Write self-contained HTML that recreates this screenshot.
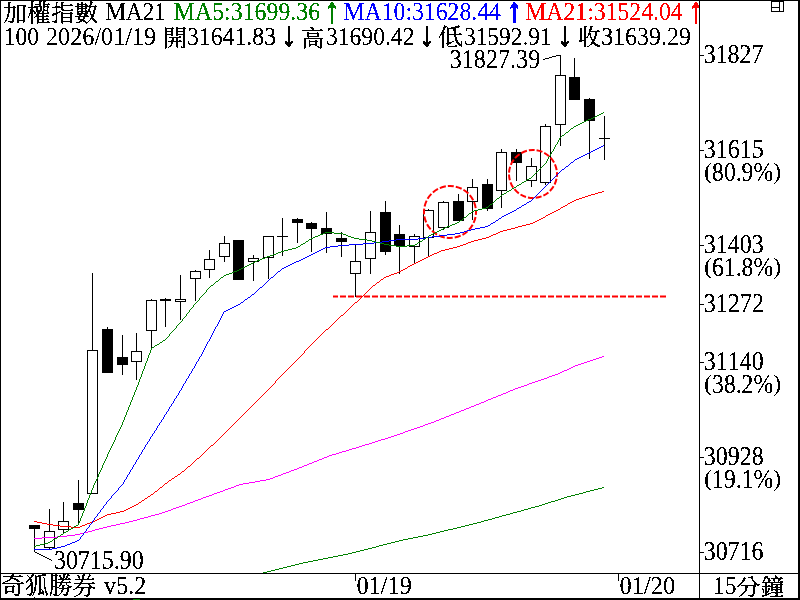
<!DOCTYPE html>
<html lang="zh-Hant"><head><meta charset="utf-8"><title>加權指數 MA21</title>
<style>html,body{margin:0;padding:0;background:#fff;overflow:hidden}body{width:800px;height:600px}svg{display:block}text{font-family:"Liberation Serif","Noto Serif CJK TC","Noto Serif CJK SC",serif;font-size:24px;white-space:pre;font-kerning:none;stroke-width:0.15px;paint-order:stroke}text.c{font-weight:400;stroke-width:0.3px;font-size:23px}text.a{stroke-width:0.75px;stroke-linejoin:miter}</style></head><body>
<svg width="800" height="600" viewBox="0 0 800 600">
<defs><filter id="t" filterUnits="userSpaceOnUse" x="0" y="0" width="800" height="600" color-interpolation-filters="sRGB"><feComponentTransfer><feFuncA type="discrete" tableValues="0 1"/></feComponentTransfer></filter></defs>
<rect x="0" y="0" width="800" height="600" fill="#fff"/>
<g id="candles" fill="#000" shape-rendering="crispEdges">
<rect x="34" y="525" width="1" height="27"/>
<rect x="29" y="525" width="11" height="4"/>
<rect x="49" y="509" width="1" height="40"/>
<rect x="44" y="531" width="11" height="17"/>
<rect x="45" y="532" width="9" height="15" fill="#fff"/>
<rect x="63" y="502" width="1" height="32"/>
<rect x="58" y="521" width="11" height="9"/>
<rect x="59" y="522" width="9" height="7" fill="#fff"/>
<rect x="78" y="480" width="1" height="44"/>
<rect x="73" y="503" width="11" height="7"/>
<rect x="92" y="273" width="1" height="221"/>
<rect x="87" y="350" width="11" height="144"/>
<rect x="88" y="351" width="9" height="142" fill="#fff"/>
<rect x="107" y="327" width="1" height="46"/>
<rect x="102" y="329" width="11" height="44"/>
<rect x="122" y="335" width="1" height="40"/>
<rect x="117" y="357" width="11" height="8"/>
<rect x="136" y="333" width="1" height="47"/>
<rect x="131" y="351" width="11" height="11"/>
<rect x="132" y="352" width="9" height="9" fill="#fff"/>
<rect x="151" y="299" width="1" height="49"/>
<rect x="146" y="300" width="11" height="31"/>
<rect x="147" y="301" width="9" height="29" fill="#fff"/>
<rect x="165" y="298" width="1" height="29"/>
<rect x="160" y="299" width="11" height="2"/>
<rect x="180" y="275" width="1" height="45"/>
<rect x="175" y="299" width="11" height="3"/>
<rect x="176" y="300" width="9" height="1" fill="#fff"/>
<rect x="195" y="270" width="1" height="31"/>
<rect x="190" y="271" width="11" height="8"/>
<rect x="191" y="272" width="9" height="6" fill="#fff"/>
<rect x="209" y="250" width="1" height="28"/>
<rect x="204" y="259" width="11" height="11"/>
<rect x="205" y="260" width="9" height="9" fill="#fff"/>
<rect x="224" y="236" width="1" height="26"/>
<rect x="219" y="243" width="11" height="14"/>
<rect x="220" y="244" width="9" height="12" fill="#fff"/>
<rect x="238" y="240" width="1" height="40"/>
<rect x="233" y="240" width="11" height="40"/>
<rect x="253" y="255" width="1" height="26"/>
<rect x="248" y="258" width="11" height="4"/>
<rect x="249" y="259" width="9" height="2" fill="#fff"/>
<rect x="268" y="236" width="1" height="43"/>
<rect x="263" y="236" width="11" height="22"/>
<rect x="264" y="237" width="9" height="20" fill="#fff"/>
<rect x="282" y="218" width="1" height="38"/>
<rect x="277" y="236" width="11" height="1"/>
<rect x="297" y="218" width="1" height="25"/>
<rect x="292" y="219" width="11" height="4"/>
<rect x="311" y="222" width="1" height="30"/>
<rect x="306" y="223" width="11" height="6"/>
<rect x="326" y="212" width="1" height="41"/>
<rect x="321" y="228" width="11" height="6"/>
<rect x="341" y="232" width="1" height="25"/>
<rect x="336" y="238" width="11" height="4"/>
<rect x="355" y="245" width="1" height="52"/>
<rect x="350" y="261" width="11" height="13"/>
<rect x="351" y="262" width="9" height="11" fill="#fff"/>
<rect x="370" y="211" width="1" height="63"/>
<rect x="365" y="232" width="11" height="27"/>
<rect x="366" y="233" width="9" height="25" fill="#fff"/>
<rect x="385" y="201" width="1" height="54"/>
<rect x="380" y="212" width="11" height="40"/>
<rect x="399" y="225" width="1" height="49"/>
<rect x="394" y="234" width="11" height="12"/>
<rect x="414" y="234" width="1" height="29"/>
<rect x="409" y="236" width="11" height="11"/>
<rect x="410" y="237" width="9" height="9" fill="#fff"/>
<rect x="428" y="209" width="1" height="47"/>
<rect x="423" y="210" width="11" height="28"/>
<rect x="424" y="211" width="9" height="26" fill="#fff"/>
<rect x="443" y="201" width="1" height="29"/>
<rect x="438" y="202" width="11" height="26"/>
<rect x="439" y="203" width="9" height="24" fill="#fff"/>
<rect x="458" y="194" width="1" height="27"/>
<rect x="453" y="201" width="11" height="20"/>
<rect x="472" y="179" width="1" height="41"/>
<rect x="467" y="187" width="11" height="15"/>
<rect x="468" y="188" width="9" height="13" fill="#fff"/>
<rect x="487" y="179" width="1" height="32"/>
<rect x="482" y="184" width="11" height="25"/>
<rect x="501" y="149" width="1" height="59"/>
<rect x="496" y="152" width="11" height="39"/>
<rect x="497" y="153" width="9" height="37" fill="#fff"/>
<rect x="516" y="149" width="1" height="32"/>
<rect x="511" y="152" width="11" height="11"/>
<rect x="531" y="158" width="1" height="29"/>
<rect x="526" y="166" width="11" height="15"/>
<rect x="527" y="167" width="9" height="13" fill="#fff"/>
<rect x="545" y="124" width="1" height="61"/>
<rect x="540" y="126" width="11" height="57"/>
<rect x="541" y="127" width="9" height="55" fill="#fff"/>
<rect x="560" y="55" width="1" height="91"/>
<rect x="555" y="75" width="11" height="50"/>
<rect x="556" y="76" width="9" height="48" fill="#fff"/>
<rect x="574" y="58" width="1" height="42"/>
<rect x="569" y="77" width="11" height="23"/>
<rect x="589" y="98" width="1" height="61"/>
<rect x="584" y="99" width="11" height="22"/>
<rect x="604" y="116" width="1" height="44"/>
<rect x="599" y="138" width="11" height="1"/>
</g>
<line x1="333" y1="296.5" x2="666" y2="296.5" stroke="#ff0000" stroke-width="2" stroke-dasharray="6 2" stroke-dashoffset="1"/>
<circle cx="450" cy="212" r="26" fill="none" stroke="#ff0000" stroke-width="2" stroke-dasharray="6.13 2.04" stroke-dashoffset="3.06"/>
<circle cx="533" cy="174" r="24" fill="none" stroke="#ff0000" stroke-width="2" stroke-dasharray="5.95 1.987" stroke-dashoffset="3"/>
<g id="ma" shape-rendering="crispEdges">
<path fill="#008000" d="M602 487h2v1h-2zM598 488h4v1h-4zM594 489h4v1h-4zM590 490h4v1h-4zM586 491h4v1h-4zM583 492h3v1h-3zM579 493h4v1h-4zM575 494h4v1h-4zM571 495h4v1h-4zM567 496h4v1h-4zM564 497h3v1h-3zM561 498h3v1h-3zM558 499h3v1h-3zM555 500h3v1h-3zM551 501h4v1h-4zM548 502h3v1h-3zM545 503h3v1h-3zM542 504h3v1h-3zM539 505h3v1h-3zM535 506h4v1h-4zM531 507h4v1h-4zM528 508h3v1h-3zM524 509h4v1h-4zM521 510h3v1h-3zM517 511h4v1h-4zM513 512h4v1h-4zM510 513h3v1h-3zM506 514h4v1h-4zM502 515h4v1h-4zM499 516h3v1h-3zM495 517h4v1h-4zM492 518h3v1h-3zM488 519h4v1h-4zM484 520h4v1h-4zM481 521h3v1h-3zM477 522h4v1h-4zM473 523h4v1h-4zM469 524h4v1h-4zM465 525h4v1h-4zM461 526h4v1h-4zM457 527h4v1h-4zM453 528h4v1h-4zM448 529h5v1h-5zM444 530h4v1h-4zM440 531h4v1h-4zM436 532h4v1h-4zM432 533h4v1h-4zM428 534h4v1h-4zM423 535h5v1h-5zM418 536h5v1h-5zM413 537h5v1h-5zM408 538h5v1h-5zM403 539h5v1h-5zM399 540h4v1h-4zM395 541h4v1h-4zM391 542h4v1h-4zM387 543h4v1h-4zM383 544h4v1h-4zM379 545h4v1h-4zM376 546h3v1h-3zM372 547h4v1h-4zM368 548h4v1h-4zM364 549h4v1h-4zM360 550h4v1h-4zM356 551h4v1h-4zM352 552h4v1h-4zM348 553h4v1h-4zM343 554h5v1h-5zM338 555h5v1h-5zM333 556h5v1h-5zM328 557h5v1h-5zM323 558h5v1h-5zM318 559h5v1h-5zM313 560h5v1h-5zM308 561h5v1h-5zM303 562h5v1h-5zM299 563h4v1h-4zM295 564h4v1h-4zM291 565h4v1h-4zM287 566h4v1h-4zM283 567h4v1h-4zM279 568h4v1h-4zM275 569h4v1h-4zM271 570h4v1h-4zM267 571h4v1h-4zM263 572h4v1h-4z"/>
<path fill="#ff00ff" d="M602 356h2v1h-2zM599 357h3v1h-3zM596 358h3v1h-3zM593 359h3v1h-3zM590 360h3v1h-3zM587 361h3v1h-3zM584 362h3v1h-3zM581 363h3v1h-3zM578 364h3v1h-3zM575 365h3v1h-3zM573 366h2v1h-2zM571 367h2v1h-2zM569 368h2v1h-2zM567 369h2v1h-2zM564 370h3v1h-3zM562 371h2v1h-2zM560 372h2v1h-2zM558 373h2v1h-2zM555 374h3v1h-3zM552 375h3v1h-3zM549 376h3v1h-3zM547 377h2v1h-2zM544 378h3v1h-3zM541 379h3v1h-3zM538 380h3v1h-3zM535 381h3v1h-3zM532 382h3v1h-3zM529 383h3v1h-3zM527 384h2v1h-2zM524 385h3v1h-3zM521 386h3v1h-3zM518 387h3v1h-3zM515 388h3v1h-3zM513 389h2v1h-2zM510 390h3v1h-3zM508 391h2v1h-2zM506 392h2v1h-2zM503 393h3v1h-3zM501 394h2v1h-2zM498 395h3v1h-3zM496 396h2v1h-2zM493 397h3v1h-3zM491 398h2v1h-2zM488 399h3v1h-3zM486 400h2v1h-2zM484 401h2v1h-2zM481 402h3v1h-3zM479 403h2v1h-2zM476 404h3v1h-3zM474 405h2v1h-2zM471 406h3v1h-3zM469 407h2v1h-2zM466 408h3v1h-3zM464 409h2v1h-2zM461 410h3v1h-3zM459 411h2v1h-2zM456 412h3v1h-3zM454 413h2v1h-2zM451 414h3v1h-3zM449 415h2v1h-2zM446 416h3v1h-3zM444 417h2v1h-2zM441 418h3v1h-3zM439 419h2v1h-2zM436 420h3v1h-3zM434 421h2v1h-2zM431 422h3v1h-3zM428 423h3v1h-3zM425 424h3v1h-3zM423 425h2v1h-2zM420 426h3v1h-3zM417 427h3v1h-3zM414 428h3v1h-3zM411 429h3v1h-3zM408 430h3v1h-3zM405 431h3v1h-3zM403 432h2v1h-2zM400 433h3v1h-3zM397 434h3v1h-3zM394 435h3v1h-3zM391 436h3v1h-3zM388 437h3v1h-3zM385 438h3v1h-3zM381 439h4v1h-4zM378 440h3v1h-3zM375 441h3v1h-3zM372 442h3v1h-3zM369 443h3v1h-3zM365 444h4v1h-4zM362 445h3v1h-3zM359 446h3v1h-3zM356 447h3v1h-3zM352 448h4v1h-4zM349 449h3v1h-3zM346 450h3v1h-3zM342 451h4v1h-4zM339 452h3v1h-3zM336 453h3v1h-3zM332 454h4v1h-4zM329 455h3v1h-3zM327 456h2v1h-2zM324 457h3v1h-3zM322 458h2v1h-2zM319 459h3v1h-3zM317 460h2v1h-2zM314 461h3v1h-3zM312 462h2v1h-2zM309 463h3v1h-3zM307 464h2v1h-2zM304 465h3v1h-3zM302 466h2v1h-2zM299 467h3v1h-3zM297 468h2v1h-2zM294 469h3v1h-3zM291 470h3v1h-3zM289 471h2v1h-2zM286 472h3v1h-3zM283 473h3v1h-3zM281 474h2v1h-2zM278 475h3v1h-3zM275 476h3v1h-3zM273 477h2v1h-2zM270 478h3v1h-3zM266 479h4v1h-4zM260 480h6v1h-6zM255 481h5v1h-5zM249 482h6v1h-6zM243 483h6v1h-6zM239 484h4v1h-4zM236 485h3v1h-3zM234 486h2v1h-2zM231 487h3v1h-3zM228 488h3v1h-3zM225 489h3v1h-3zM223 490h2v1h-2zM220 491h3v1h-3zM217 492h3v1h-3zM214 493h3v1h-3zM212 494h2v1h-2zM209 495h3v1h-3zM206 496h3v1h-3zM203 497h3v1h-3zM201 498h2v1h-2zM198 499h3v1h-3zM195 500h3v1h-3zM193 501h2v1h-2zM190 502h3v1h-3zM187 503h3v1h-3zM185 504h2v1h-2zM182 505h3v1h-3zM179 506h3v1h-3zM176 507h3v1h-3zM173 508h3v1h-3zM171 509h2v1h-2zM168 510h3v1h-3zM165 511h3v1h-3zM162 512h3v1h-3zM159 513h3v1h-3zM155 514h4v1h-4zM151 515h4v1h-4zM148 516h3v1h-3zM144 517h4v1h-4zM140 518h4v1h-4zM137 519h3v1h-3zM133 520h4v1h-4zM129 521h4v1h-4zM125 522h4v1h-4zM120 523h5v1h-5zM116 524h4v1h-4zM111 525h5v1h-5zM107 526h4v1h-4zM103 527h4v1h-4zM99 528h4v1h-4zM95 529h4v1h-4zM92 530h3v1h-3zM88 531h4v1h-4zM84 532h4v1h-4zM80 533h4v1h-4zM75 534h5v1h-5zM67 535h8v1h-8zM57 536h10v1h-10zM42 537h15v1h-15zM34 538h8v1h-8z"/>
<path fill="#ff0000" d="M602 191h2v1h-2zM598 192h4v1h-4zM595 193h3v1h-3zM591 194h4v1h-4zM588 195h3v1h-3zM585 196h3v1h-3zM582 197h3v1h-3zM579 198h3v1h-3zM576 199h3v1h-3zM574 200h2v1h-2zM572 201h2v1h-2zM570 202h2v1h-2zM568 203h2v1h-2zM565 205h2v1h-2zM563 206h2v1h-2zM561 207h2v1h-2zM558 209h2v1h-2zM556 210h2v1h-2zM554 211h2v1h-2zM552 212h2v1h-2zM550 213h2v1h-2zM548 214h2v1h-2zM546 215h2v1h-2zM543 217h2v1h-2zM541 218h2v1h-2zM539 219h2v1h-2zM537 220h2v1h-2zM535 221h2v1h-2zM533 222h2v1h-2zM530 223h3v1h-3zM526 224h4v1h-4zM522 225h4v1h-4zM518 226h4v1h-4zM515 227h3v1h-3zM511 228h4v1h-4zM507 229h4v1h-4zM503 230h4v1h-4zM500 231h3v1h-3zM498 232h2v1h-2zM496 233h2v1h-2zM493 234h3v1h-3zM491 235h2v1h-2zM489 236h2v1h-2zM486 237h3v1h-3zM482 238h4v1h-4zM478 239h4v1h-4zM474 240h4v1h-4zM471 241h3v1h-3zM468 242h3v1h-3zM466 243h2v1h-2zM463 244h3v1h-3zM460 245h3v1h-3zM457 246h3v1h-3zM453 247h4v1h-4zM449 248h4v1h-4zM445 249h4v1h-4zM441 250h4v1h-4zM439 251h2v1h-2zM437 252h2v1h-2zM434 253h3v1h-3zM432 254h2v1h-2zM430 255h2v1h-2zM428 256h2v1h-2zM426 257h2v1h-2zM424 258h2v1h-2zM422 259h2v1h-2zM420 260h2v1h-2zM418 261h2v1h-2zM416 262h2v1h-2zM414 263h2v1h-2zM412 264h2v1h-2zM410 265h2v1h-2zM408 266h2v1h-2zM405 268h2v1h-2zM403 269h2v1h-2zM401 270h2v1h-2zM399 271h2v1h-2zM397 272h2v1h-2zM394 273h3v1h-3zM391 274h3v1h-3zM389 275h2v1h-2zM386 276h3v1h-3zM384 277h2v1h-2zM381 279h2v1h-2zM377 282h2v1h-2zM373 285h2v1h-2zM355 302h2v1h-2zM341 315h2v1h-2zM326 329h2v1h-2zM211 445h2v1h-2zM197 458h2v1h-2zM188 466h2v1h-2zM182 471h2v1h-2zM178 474h2v1h-2zM175 476h2v1h-2zM172 478h2v1h-2zM169 480h2v1h-2zM165 483h2v1h-2zM160 487h2v1h-2zM155 491h2v1h-2zM151 494h2v1h-2zM148 496h2v1h-2zM145 498h2v1h-2zM142 500h2v1h-2zM139 502h2v1h-2zM136 504h2v1h-2zM134 505h2v1h-2zM132 506h2v1h-2zM130 507h2v1h-2zM128 508h2v1h-2zM126 509h2v1h-2zM124 510h2v1h-2zM120 511h4v1h-4zM116 512h4v1h-4zM111 513h5v1h-5zM107 514h4v1h-4zM105 515h2v1h-2zM103 516h2v1h-2zM101 517h2v1h-2zM99 518h2v1h-2zM97 519h2v1h-2zM95 520h2v1h-2zM34 521h3v1h-3zM92 521h3v1h-3zM37 522h5v1h-5zM90 522h2v1h-2zM42 523h5v1h-5zM87 523h3v1h-3zM47 524h6v1h-6zM85 524h2v1h-2zM53 525h7v1h-7zM82 525h3v1h-3zM60 526h11v1h-11zM80 526h2v1h-2zM71 527h9v1h-9zM567 204h1v1h-1zM560 208h1v1h-1zM545 216h1v1h-1zM407 267h1v1h-1zM383 278h1v1h-1zM380 280h1v1h-1zM379 281h1v1h-1zM376 283h1v1h-1zM375 284h1v1h-1zM372 286h1v1h-1zM371 287h1v1h-1zM370 288h1v1h-1zM369 289h1v1h-1zM368 290h1v1h-1zM367 291h1v1h-1zM366 292h1v1h-1zM365 293h1v1h-1zM364 294h1v1h-1zM363 295h1v1h-1zM362 296h1v1h-1zM361 297h1v1h-1zM360 298h1v1h-1zM359 299h1v1h-1zM358 300h1v1h-1zM357 301h1v1h-1zM354 303h1v1h-1zM353 304h1v1h-1zM352 305h1v1h-1zM351 306h1v1h-1zM350 307h1v1h-1zM349 308h1v1h-1zM348 309h1v1h-1zM347 310h1v1h-1zM346 311h1v1h-1zM345 312h1v1h-1zM344 313h1v1h-1zM343 314h1v1h-1zM340 316h1v1h-1zM339 317h1v1h-1zM338 318h1v1h-1zM337 319h1v1h-1zM336 320h1v1h-1zM335 321h1v1h-1zM334 322h1v1h-1zM333 323h1v1h-1zM332 324h1v1h-1zM331 325h1v1h-1zM330 326h1v1h-1zM329 327h1v1h-1zM328 328h1v1h-1zM325 330h1v1h-1zM324 331h1v1h-1zM323 332h1v1h-1zM322 333h1v1h-1zM321 334h1v1h-1zM320 335h1v1h-1zM319 336h1v1h-1zM318 337h1v1h-1zM317 338h1v1h-1zM316 339h1v1h-1zM315 340h1v1h-1zM314 341h1v1h-1zM313 342h1v1h-1zM312 343h1v1h-1zM311 344h1v1h-1zM310 345h1v1h-1zM309 346h1v1h-1zM308 347h1v1h-1zM307 348h1v1h-1zM306 349h1v1h-1zM305 350h1v1h-1zM304 351h1v2h-1zM303 353h1v1h-1zM302 354h1v1h-1zM301 355h1v1h-1zM300 356h1v1h-1zM299 357h1v1h-1zM298 358h1v1h-1zM297 359h1v1h-1zM296 360h1v1h-1zM295 361h1v1h-1zM294 362h1v1h-1zM293 363h1v1h-1zM292 364h1v1h-1zM291 365h1v1h-1zM290 366h1v1h-1zM289 367h1v1h-1zM288 368h1v1h-1zM287 369h1v1h-1zM286 370h1v1h-1zM285 371h1v1h-1zM284 372h1v1h-1zM283 373h1v1h-1zM282 374h1v1h-1zM281 375h1v1h-1zM280 376h1v1h-1zM279 377h1v1h-1zM278 378h1v1h-1zM277 379h1v1h-1zM276 380h1v1h-1zM275 381h1v2h-1zM274 383h1v1h-1zM273 384h1v1h-1zM272 385h1v1h-1zM271 386h1v1h-1zM270 387h1v1h-1zM269 388h1v1h-1zM268 389h1v1h-1zM267 390h1v1h-1zM266 391h1v1h-1zM265 392h1v1h-1zM264 393h1v1h-1zM263 394h1v1h-1zM262 395h1v1h-1zM261 396h1v1h-1zM260 397h1v1h-1zM259 398h1v1h-1zM258 399h1v1h-1zM257 400h1v1h-1zM256 401h1v1h-1zM255 402h1v1h-1zM254 403h1v1h-1zM253 404h1v1h-1zM252 405h1v1h-1zM251 406h1v1h-1zM250 407h1v1h-1zM249 408h1v1h-1zM248 409h1v1h-1zM247 410h1v1h-1zM246 411h1v1h-1zM245 412h1v1h-1zM244 413h1v1h-1zM243 414h1v1h-1zM242 415h1v1h-1zM241 416h1v1h-1zM240 417h1v1h-1zM239 418h1v1h-1zM238 419h1v1h-1zM237 420h1v1h-1zM236 421h1v1h-1zM235 422h1v1h-1zM234 423h1v1h-1zM233 424h1v1h-1zM232 425h1v1h-1zM231 426h1v1h-1zM230 427h1v1h-1zM229 428h1v1h-1zM228 429h1v1h-1zM227 430h1v1h-1zM226 431h1v1h-1zM225 432h1v1h-1zM224 433h1v1h-1zM223 434h1v1h-1zM222 435h1v1h-1zM221 436h1v1h-1zM220 437h1v1h-1zM219 438h1v1h-1zM218 439h1v1h-1zM217 440h1v1h-1zM216 441h1v1h-1zM215 442h1v1h-1zM214 443h1v1h-1zM213 444h1v1h-1zM210 446h1v1h-1zM209 447h1v1h-1zM208 448h1v1h-1zM207 449h1v1h-1zM206 450h1v1h-1zM205 451h1v1h-1zM204 452h1v1h-1zM203 453h1v1h-1zM202 454h1v1h-1zM201 455h1v1h-1zM200 456h1v1h-1zM199 457h1v1h-1zM196 459h1v1h-1zM195 460h1v1h-1zM194 461h1v1h-1zM193 462h1v1h-1zM192 463h1v1h-1zM191 464h1v1h-1zM190 465h1v1h-1zM187 467h1v1h-1zM186 468h1v1h-1zM185 469h1v1h-1zM184 470h1v1h-1zM181 472h1v1h-1zM180 473h1v1h-1zM177 475h1v1h-1zM174 477h1v1h-1zM171 479h1v1h-1zM168 481h1v1h-1zM167 482h1v1h-1zM164 484h1v1h-1zM163 485h1v1h-1zM162 486h1v1h-1zM159 488h1v1h-1zM158 489h1v1h-1zM157 490h1v1h-1zM154 492h1v1h-1zM153 493h1v1h-1zM150 495h1v1h-1zM147 497h1v1h-1zM144 499h1v1h-1zM141 501h1v1h-1zM138 503h1v1h-1z"/>
<path fill="#0000ff" d="M601 146h2v1h-2zM599 147h2v1h-2zM597 148h2v1h-2zM595 149h2v1h-2zM593 150h2v1h-2zM591 151h2v1h-2zM589 152h2v1h-2zM587 153h2v1h-2zM585 154h2v1h-2zM583 155h2v1h-2zM581 156h2v1h-2zM579 157h2v1h-2zM577 158h2v1h-2zM575 159h2v1h-2zM571 162h2v1h-2zM566 166h2v1h-2zM562 169h2v1h-2zM529 201h2v1h-2zM527 202h2v1h-2zM524 204h2v1h-2zM522 205h2v1h-2zM519 207h2v1h-2zM517 208h2v1h-2zM514 210h2v1h-2zM512 211h2v1h-2zM510 212h2v1h-2zM508 213h2v1h-2zM506 214h2v1h-2zM504 215h2v1h-2zM502 216h2v1h-2zM499 218h2v1h-2zM496 220h2v1h-2zM493 222h2v1h-2zM491 223h2v1h-2zM488 225h2v1h-2zM485 226h3v1h-3zM480 227h5v1h-5zM475 228h5v1h-5zM471 229h4v1h-4zM467 230h4v1h-4zM464 231h3v1h-3zM460 232h4v1h-4zM455 233h5v1h-5zM447 234h8v1h-8zM440 235h7v1h-7zM432 236h8v1h-8zM425 237h7v1h-7zM418 238h7v1h-7zM396 239h22v1h-22zM389 240h7v1h-7zM382 241h7v1h-7zM374 242h8v1h-8zM363 243h11v1h-11zM349 244h14v1h-14zM338 245h11v1h-11zM330 246h8v1h-8zM325 247h5v1h-5zM323 248h2v1h-2zM321 249h2v1h-2zM319 250h2v1h-2zM317 251h2v1h-2zM315 252h2v1h-2zM313 253h2v1h-2zM311 254h2v1h-2zM309 255h2v1h-2zM307 256h2v1h-2zM305 257h2v1h-2zM303 258h2v1h-2zM301 259h2v1h-2zM299 260h2v1h-2zM296 261h3v1h-3zM294 262h2v1h-2zM292 263h2v1h-2zM290 264h2v1h-2zM288 265h2v1h-2zM286 266h2v1h-2zM284 267h2v1h-2zM282 268h2v1h-2zM278 271h2v1h-2zM271 277h2v1h-2zM260 287h2v1h-2zM252 294h2v1h-2zM248 297h2v1h-2zM245 299h2v1h-2zM241 302h2v1h-2zM238 304h2v1h-2zM236 305h2v1h-2zM234 306h2v1h-2zM232 307h2v1h-2zM230 308h2v1h-2zM228 309h2v1h-2zM226 310h2v1h-2zM224 311h2v1h-2zM77 540h2v1h-2zM75 541h2v1h-2zM72 542h3v1h-3zM70 543h2v1h-2zM67 544h3v1h-3zM65 545h2v1h-2zM61 546h4v1h-4zM57 547h4v1h-4zM52 548h5v1h-5zM34 549h18v1h-18zM603 145h1v1h-1zM574 160h1v1h-1zM573 161h1v1h-1zM570 163h1v1h-1zM569 164h1v1h-1zM568 165h1v1h-1zM565 167h1v1h-1zM564 168h1v1h-1zM561 170h1v1h-1zM560 171h1v1h-1zM559 172h1v1h-1zM558 173h1v1h-1zM557 174h1v1h-1zM556 175h1v1h-1zM555 176h1v1h-1zM554 177h1v1h-1zM553 178h1v1h-1zM552 179h1v1h-1zM551 180h1v1h-1zM550 181h1v1h-1zM549 182h1v1h-1zM548 183h1v1h-1zM547 184h1v1h-1zM546 185h1v1h-1zM545 186h1v1h-1zM544 187h1v1h-1zM543 188h1v1h-1zM542 189h1v1h-1zM541 190h1v1h-1zM540 191h1v1h-1zM539 192h1v1h-1zM538 193h1v1h-1zM537 194h1v1h-1zM536 195h1v1h-1zM535 196h1v1h-1zM534 197h1v1h-1zM533 198h1v1h-1zM532 199h1v1h-1zM531 200h1v1h-1zM526 203h1v1h-1zM521 206h1v1h-1zM516 209h1v1h-1zM501 217h1v1h-1zM498 219h1v1h-1zM495 221h1v1h-1zM490 224h1v1h-1zM281 269h1v1h-1zM280 270h1v1h-1zM277 272h1v1h-1zM276 273h1v1h-1zM275 274h1v1h-1zM274 275h1v1h-1zM273 276h1v1h-1zM270 278h1v1h-1zM269 279h1v1h-1zM268 280h1v1h-1zM267 281h1v1h-1zM266 282h1v1h-1zM265 283h1v1h-1zM264 284h1v1h-1zM263 285h1v1h-1zM262 286h1v1h-1zM259 288h1v1h-1zM258 289h1v1h-1zM257 290h1v1h-1zM256 291h1v1h-1zM255 292h1v1h-1zM254 293h1v1h-1zM251 295h1v1h-1zM250 296h1v1h-1zM247 298h1v1h-1zM244 300h1v1h-1zM243 301h1v1h-1zM240 303h1v1h-1zM223 312h1v2h-1zM222 314h1v2h-1zM221 316h1v2h-1zM220 318h1v2h-1zM219 320h1v2h-1zM218 322h1v2h-1zM217 324h1v2h-1zM216 326h1v1h-1zM215 327h1v2h-1zM214 329h1v2h-1zM213 331h1v2h-1zM212 333h1v2h-1zM211 335h1v2h-1zM210 337h1v2h-1zM209 339h1v2h-1zM208 341h1v1h-1zM207 342h1v2h-1zM206 344h1v2h-1zM205 346h1v2h-1zM204 348h1v2h-1zM203 350h1v2h-1zM202 352h1v2h-1zM201 354h1v2h-1zM200 356h1v1h-1zM199 357h1v2h-1zM198 359h1v2h-1zM197 361h1v1h-1zM196 362h1v2h-1zM195 364h1v2h-1zM194 366h1v2h-1zM193 368h1v1h-1zM192 369h1v2h-1zM191 371h1v2h-1zM190 373h1v1h-1zM189 374h1v2h-1zM188 376h1v2h-1zM187 378h1v1h-1zM186 379h1v2h-1zM185 381h1v2h-1zM184 383h1v1h-1zM183 384h1v2h-1zM182 386h1v2h-1zM181 388h1v2h-1zM180 390h1v1h-1zM179 391h1v2h-1zM178 393h1v2h-1zM177 395h1v1h-1zM176 396h1v2h-1zM175 398h1v1h-1zM174 399h1v2h-1zM173 401h1v2h-1zM172 403h1v1h-1zM171 404h1v2h-1zM170 406h1v1h-1zM169 407h1v2h-1zM168 409h1v2h-1zM167 411h1v1h-1zM166 412h1v2h-1zM165 414h1v1h-1zM164 415h1v2h-1zM163 417h1v2h-1zM162 419h1v1h-1zM161 420h1v2h-1zM160 422h1v1h-1zM159 423h1v2h-1zM158 425h1v1h-1zM157 426h1v2h-1zM156 428h1v2h-1zM155 430h1v1h-1zM154 431h1v2h-1zM153 433h1v1h-1zM152 434h1v2h-1zM151 436h1v1h-1zM150 437h1v2h-1zM149 439h1v2h-1zM148 441h1v1h-1zM147 442h1v2h-1zM146 444h1v1h-1zM145 445h1v2h-1zM144 447h1v2h-1zM143 449h1v1h-1zM142 450h1v2h-1zM141 452h1v2h-1zM140 454h1v1h-1zM139 455h1v2h-1zM138 457h1v2h-1zM137 459h1v1h-1zM136 460h1v2h-1zM135 462h1v2h-1zM134 464h1v1h-1zM133 465h1v2h-1zM132 467h1v2h-1zM131 469h1v1h-1zM130 470h1v2h-1zM129 472h1v2h-1zM128 474h1v1h-1zM127 475h1v2h-1zM126 477h1v2h-1zM125 479h1v1h-1zM124 480h1v2h-1zM123 482h1v2h-1zM122 484h1v1h-1zM121 485h1v1h-1zM120 486h1v1h-1zM119 487h1v1h-1zM118 488h1v2h-1zM117 490h1v1h-1zM116 491h1v1h-1zM115 492h1v1h-1zM114 493h1v1h-1zM113 494h1v1h-1zM112 495h1v1h-1zM111 496h1v2h-1zM110 498h1v1h-1zM109 499h1v1h-1zM108 500h1v1h-1zM107 501h1v1h-1zM106 502h1v2h-1zM105 504h1v1h-1zM104 505h1v1h-1zM103 506h1v2h-1zM102 508h1v1h-1zM101 509h1v1h-1zM100 510h1v2h-1zM99 512h1v1h-1zM98 513h1v1h-1zM97 514h1v2h-1zM96 516h1v1h-1zM95 517h1v1h-1zM94 518h1v2h-1zM93 520h1v1h-1zM92 521h1v2h-1zM91 523h1v1h-1zM90 524h1v1h-1zM89 525h1v2h-1zM88 527h1v1h-1zM87 528h1v1h-1zM86 529h1v2h-1zM85 531h1v1h-1zM84 532h1v1h-1zM83 533h1v2h-1zM82 535h1v1h-1zM81 536h1v1h-1zM80 537h1v2h-1zM79 539h1v1h-1z"/>
<path fill="#008000" d="M601 113h2v1h-2zM599 114h2v1h-2zM597 115h2v1h-2zM595 116h2v1h-2zM593 117h2v1h-2zM591 118h2v1h-2zM588 119h3v1h-3zM586 120h2v1h-2zM584 121h2v1h-2zM582 122h2v1h-2zM580 123h2v1h-2zM578 124h2v1h-2zM576 125h2v1h-2zM574 126h2v1h-2zM571 128h2v1h-2zM566 132h2v1h-2zM562 135h2v1h-2zM529 178h2v1h-2zM527 179h2v1h-2zM524 181h2v1h-2zM522 182h2v1h-2zM519 184h2v1h-2zM517 185h2v1h-2zM514 187h2v1h-2zM512 188h2v1h-2zM509 190h2v1h-2zM507 191h2v1h-2zM504 193h2v1h-2zM502 194h2v1h-2zM497 198h2v1h-2zM490 204h2v1h-2zM486 207h2v1h-2zM482 208h4v1h-4zM478 209h4v1h-4zM474 210h4v1h-4zM472 211h2v1h-2zM469 213h2v1h-2zM464 217h2v1h-2zM460 220h2v1h-2zM457 222h2v1h-2zM455 223h2v1h-2zM452 224h3v1h-3zM450 225h2v1h-2zM447 226h3v1h-3zM445 227h2v1h-2zM443 228h2v1h-2zM441 229h2v1h-2zM439 230h2v1h-2zM437 231h2v1h-2zM325 232h9v1h-9zM435 232h2v1h-2zM323 233h2v1h-2zM334 233h9v1h-9zM433 233h2v1h-2zM320 234h3v1h-3zM343 234h3v1h-3zM431 234h2v1h-2zM318 235h2v1h-2zM346 235h2v1h-2zM429 235h2v1h-2zM315 236h3v1h-3zM348 236h3v1h-3zM313 237h2v1h-2zM351 237h3v1h-3zM426 237h2v1h-2zM311 238h2v1h-2zM354 238h5v1h-5zM309 239h2v1h-2zM359 239h8v1h-8zM423 239h2v1h-2zM367 240h5v1h-5zM306 241h2v1h-2zM372 241h4v1h-4zM420 241h2v1h-2zM376 242h4v1h-4zM418 242h2v1h-2zM303 243h2v1h-2zM380 243h4v1h-4zM301 244h2v1h-2zM384 244h5v1h-5zM415 244h2v1h-2zM389 245h7v1h-7zM407 245h8v1h-8zM298 246h2v1h-2zM396 246h11v1h-11zM296 247h2v1h-2zM292 248h4v1h-4zM288 249h4v1h-4zM284 250h4v1h-4zM281 251h3v1h-3zM278 252h3v1h-3zM276 253h2v1h-2zM273 254h3v1h-3zM270 255h3v1h-3zM267 256h3v1h-3zM265 257h2v1h-2zM262 258h3v1h-3zM260 259h2v1h-2zM257 260h3v1h-3zM255 261h2v1h-2zM253 262h2v1h-2zM251 263h2v1h-2zM249 264h2v1h-2zM247 265h2v1h-2zM245 266h2v1h-2zM243 267h2v1h-2zM241 268h2v1h-2zM239 269h2v1h-2zM237 270h2v1h-2zM234 271h3v1h-3zM232 272h2v1h-2zM229 273h3v1h-3zM226 274h3v1h-3zM224 275h2v1h-2zM221 277h2v1h-2zM216 281h2v1h-2zM211 285h2v1h-2zM163 340h2v1h-2zM160 342h2v1h-2zM157 344h2v1h-2zM155 345h2v1h-2zM152 347h2v1h-2zM76 525h2v1h-2zM74 526h2v1h-2zM71 528h2v1h-2zM69 529h2v1h-2zM66 531h2v1h-2zM64 532h2v1h-2zM61 534h2v1h-2zM58 536h2v1h-2zM55 538h2v1h-2zM53 539h2v1h-2zM50 541h2v1h-2zM48 542h2v1h-2zM44 543h4v1h-4zM40 544h4v1h-4zM36 545h4v1h-4zM34 546h2v1h-2zM603 112h1v1h-1zM573 127h1v1h-1zM570 129h1v1h-1zM569 130h1v1h-1zM568 131h1v1h-1zM565 133h1v1h-1zM564 134h1v1h-1zM561 136h1v1h-1zM560 137h1v1h-1zM559 138h1v2h-1zM558 140h1v2h-1zM557 142h1v2h-1zM556 144h1v1h-1zM555 145h1v2h-1zM554 147h1v2h-1zM553 149h1v2h-1zM552 151h1v1h-1zM551 152h1v2h-1zM550 154h1v2h-1zM549 156h1v1h-1zM548 157h1v2h-1zM547 159h1v2h-1zM546 161h1v2h-1zM545 163h1v1h-1zM544 164h1v1h-1zM543 165h1v1h-1zM542 166h1v1h-1zM541 167h1v1h-1zM540 168h1v1h-1zM539 169h1v1h-1zM538 170h1v1h-1zM537 171h1v1h-1zM536 172h1v1h-1zM535 173h1v1h-1zM534 174h1v1h-1zM533 175h1v1h-1zM532 176h1v1h-1zM531 177h1v1h-1zM526 180h1v1h-1zM521 183h1v1h-1zM516 186h1v1h-1zM511 189h1v1h-1zM506 192h1v1h-1zM501 195h1v1h-1zM500 196h1v1h-1zM499 197h1v1h-1zM496 199h1v1h-1zM495 200h1v1h-1zM494 201h1v1h-1zM493 202h1v1h-1zM492 203h1v1h-1zM489 205h1v1h-1zM488 206h1v1h-1zM471 212h1v1h-1zM468 214h1v1h-1zM467 215h1v1h-1zM466 216h1v1h-1zM463 218h1v1h-1zM462 219h1v1h-1zM459 221h1v1h-1zM428 236h1v1h-1zM425 238h1v1h-1zM308 240h1v1h-1zM422 240h1v1h-1zM305 242h1v1h-1zM417 243h1v1h-1zM300 245h1v1h-1zM223 276h1v1h-1zM220 278h1v1h-1zM219 279h1v1h-1zM218 280h1v1h-1zM215 282h1v1h-1zM214 283h1v1h-1zM213 284h1v1h-1zM210 286h1v1h-1zM209 287h1v1h-1zM208 288h1v1h-1zM207 289h1v1h-1zM206 290h1v2h-1zM205 292h1v1h-1zM204 293h1v1h-1zM203 294h1v1h-1zM202 295h1v1h-1zM201 296h1v1h-1zM200 297h1v1h-1zM199 298h1v2h-1zM198 300h1v1h-1zM197 301h1v1h-1zM196 302h1v1h-1zM195 303h1v1h-1zM194 304h1v1h-1zM193 305h1v2h-1zM192 307h1v1h-1zM191 308h1v1h-1zM190 309h1v1h-1zM189 310h1v2h-1zM188 312h1v1h-1zM187 313h1v1h-1zM186 314h1v2h-1zM185 316h1v1h-1zM184 317h1v1h-1zM183 318h1v1h-1zM182 319h1v2h-1zM181 321h1v1h-1zM180 322h1v1h-1zM179 323h1v1h-1zM178 324h1v1h-1zM177 325h1v1h-1zM176 326h1v2h-1zM175 328h1v1h-1zM174 329h1v1h-1zM173 330h1v1h-1zM172 331h1v1h-1zM171 332h1v1h-1zM170 333h1v1h-1zM169 334h1v2h-1zM168 336h1v1h-1zM167 337h1v1h-1zM166 338h1v1h-1zM165 339h1v1h-1zM162 341h1v1h-1zM159 343h1v1h-1zM154 346h1v1h-1zM151 348h1v2h-1zM150 350h1v3h-1zM149 353h1v2h-1zM148 355h1v3h-1zM147 358h1v3h-1zM146 361h1v2h-1zM145 363h1v3h-1zM144 366h1v3h-1zM143 369h1v2h-1zM142 371h1v3h-1zM141 374h1v3h-1zM140 377h1v2h-1zM139 379h1v3h-1zM138 382h1v3h-1zM137 385h1v2h-1zM136 387h1v3h-1zM135 390h1v2h-1zM134 392h1v3h-1zM133 395h1v2h-1zM132 397h1v3h-1zM131 400h1v2h-1zM130 402h1v3h-1zM129 405h1v2h-1zM128 407h1v3h-1zM127 410h1v2h-1zM126 412h1v3h-1zM125 415h1v2h-1zM124 417h1v3h-1zM123 420h1v2h-1zM122 422h1v3h-1zM121 425h1v2h-1zM120 427h1v2h-1zM119 429h1v2h-1zM118 431h1v2h-1zM117 433h1v2h-1zM116 435h1v2h-1zM115 437h1v3h-1zM114 440h1v2h-1zM113 442h1v2h-1zM112 444h1v2h-1zM111 446h1v2h-1zM110 448h1v2h-1zM109 450h1v2h-1zM108 452h1v2h-1zM107 454h1v3h-1zM106 457h1v2h-1zM105 459h1v2h-1zM104 461h1v2h-1zM103 463h1v2h-1zM102 465h1v3h-1zM101 468h1v2h-1zM100 470h1v2h-1zM99 472h1v2h-1zM98 474h1v3h-1zM97 477h1v2h-1zM96 479h1v2h-1zM95 481h1v2h-1zM94 483h1v2h-1zM93 485h1v3h-1zM92 488h1v2h-1zM91 490h1v3h-1zM90 493h1v2h-1zM89 495h1v3h-1zM88 498h1v2h-1zM87 500h1v3h-1zM86 503h1v3h-1zM85 506h1v2h-1zM84 508h1v3h-1zM83 511h1v2h-1zM82 513h1v3h-1zM81 516h1v2h-1zM80 518h1v3h-1zM79 521h1v2h-1zM78 523h1v2h-1zM73 527h1v1h-1zM68 530h1v1h-1zM63 533h1v1h-1zM60 535h1v1h-1zM57 537h1v1h-1zM52 540h1v1h-1z"/>
</g>
<g shape-rendering="crispEdges">
<path fill="#000" d="M556 55h5v1h-5zM552 56h4v1h-4zM549 57h3v1h-3zM545 58h4v1h-4zM543 59h2v1h-2z"/>
<path fill="#000" d="M35 552h2v1h-2zM37 553h2v1h-2zM39 554h2v1h-2zM41 555h2v1h-2zM43 556h2v1h-2zM45 557h2v1h-2zM47 558h2v1h-2zM49 559h2v1h-2zM34 551h1v1h-1zM51 560h1v1h-1z"/>
</g>
<g id="txt" filter="url(#t)">
<g id="hdr">
<text class="c" transform="translate(3.28,21.01) scale(1.0319,1.0106)" fill="#000" stroke="#000">加權指數</text>
<text transform="translate(105.41,20.00) scale(0.9655,1.070)" fill="#000" stroke="#000">MA21</text>
<text transform="translate(173.79,20.00) scale(0.9933,1.070)" fill="#008000" stroke="#008000">MA5:31699.36</text>
<text class="a" transform="translate(324.32,22.06) scale(1.280,1.458)" fill="#008000" stroke="#008000">↑</text>
<text transform="translate(343.39,20.00) scale(0.9897,1.070)" fill="#0000ff" stroke="#0000ff">MA10:31628.44</text>
<text class="a" transform="translate(506.72,22.06) scale(1.280,1.458)" fill="#0000ff" stroke="#0000ff">↑</text>
<text transform="translate(525.19,20.00) scale(0.9891,1.070)" fill="#ff0000" stroke="#ff0000">MA21:31524.04</text>
<text class="a" transform="translate(688.32,22.06) scale(1.280,1.458)" fill="#ff0000" stroke="#ff0000">↑</text>
<text transform="translate(3.61,45.40) scale(0.9810,1.070)" fill="#000" stroke="#000">100</text>
<text transform="translate(46.01,45.40) scale(1.0080,1.070)" fill="#000" stroke="#000">2026/01/19</text>
<text class="c" transform="translate(162.51,45.57) scale(1.0844,0.9830)" fill="#000" stroke="#000">開</text>
<text transform="translate(186.94,45.40) scale(0.9902,1.070)" fill="#000" stroke="#000">31641.83</text>
<text class="a" transform="translate(281.32,45.87) scale(1.280,1.444)" fill="#000" stroke="#000">↓</text>
<text class="c" transform="translate(301.34,45.52) scale(1.0081,0.9565)" fill="#000" stroke="#000">高</text>
<text transform="translate(325.94,45.40) scale(0.9843,1.070)" fill="#000" stroke="#000">31690.42</text>
<text class="a" transform="translate(419.32,45.87) scale(1.280,1.444)" fill="#000" stroke="#000">↓</text>
<text class="c" transform="translate(437.99,45.35) scale(1.0963,0.9911)" fill="#000" stroke="#000">低</text>
<text transform="translate(463.95,45.40) scale(0.9753,1.070)" fill="#000" stroke="#000">31592.91</text>
<text class="a" transform="translate(557.32,45.87) scale(1.280,1.444)" fill="#000" stroke="#000">↓</text>
<text class="c" transform="translate(577.86,45.47) scale(0.9911,0.9806)" fill="#000" stroke="#000">收</text>
<text transform="translate(601.13,45.40) scale(0.9975,1.070)" fill="#000" stroke="#000">31639.29</text>
</g>
<g id="labels">
<text transform="translate(449.72,67.90) scale(1.0066,1.110)" fill="#000" stroke="#000">31827.39</text>
<text transform="translate(53.93,568.90) scale(0.9990,1.110)" fill="#000" stroke="#000">30715.90</text>
<text transform="translate(703.73,62.60) scale(0.9947,1.110)" fill="#000" stroke="#000">31827</text>
<text transform="translate(703.73,157.60) scale(0.9989,1.110)" fill="#000" stroke="#000">31615</text>
<text transform="translate(704.20,179.20) scale(0.9850,0.930)" fill="#000" stroke="#000">(</text>
<text transform="translate(712.08,180.80) scale(0.9850,1.110)" fill="#000" stroke="#000">80.9%</text>
<text transform="translate(773.15,179.20) scale(0.9850,0.930)" fill="#000" stroke="#000">)</text>
<text transform="translate(703.73,252.60) scale(0.9989,1.110)" fill="#000" stroke="#000">31403</text>
<text transform="translate(704.20,274.20) scale(0.9850,0.930)" fill="#000" stroke="#000">(</text>
<text transform="translate(712.08,275.80) scale(0.9850,1.110)" fill="#000" stroke="#000">61.8%</text>
<text transform="translate(773.15,274.20) scale(0.9850,0.930)" fill="#000" stroke="#000">)</text>
<text transform="translate(703.72,311.60) scale(1.0056,1.110)" fill="#000" stroke="#000">31272</text>
<text transform="translate(703.73,369.60) scale(0.9985,1.110)" fill="#000" stroke="#000">31140</text>
<text transform="translate(704.20,391.20) scale(0.9850,0.930)" fill="#000" stroke="#000">(</text>
<text transform="translate(712.08,392.80) scale(0.9850,1.110)" fill="#000" stroke="#000">38.2%</text>
<text transform="translate(773.15,391.20) scale(0.9850,0.930)" fill="#000" stroke="#000">)</text>
<text transform="translate(703.73,464.60) scale(0.9985,1.110)" fill="#000" stroke="#000">30928</text>
<text transform="translate(704.20,486.20) scale(0.9850,0.930)" fill="#000" stroke="#000">(</text>
<text transform="translate(712.08,487.80) scale(0.9850,1.110)" fill="#000" stroke="#000">19.1%</text>
<text transform="translate(773.15,486.20) scale(0.9850,0.930)" fill="#000" stroke="#000">)</text>
<text transform="translate(703.73,559.60) scale(0.9951,1.110)" fill="#000" stroke="#000">30716</text>
<text class="c" transform="translate(1.05,594.07) scale(1.0373,1.0268)" fill="#000" stroke="#000">奇狐勝券</text>
<text transform="translate(104.08,593.90) scale(1.0043,1.090)" fill="#000" stroke="#000">v5.2</text>
<text transform="translate(356.45,593.90) scale(1.0148,1.090)" fill="#000" stroke="#000">01/19</text>
<text transform="translate(619.44,593.90) scale(1.0210,1.090)" fill="#000" stroke="#000">01/20</text>
<text transform="translate(713.00,593.90) scale(0.9855,1.090)" fill="#000" stroke="#000">15</text>
<text class="c" transform="translate(736.54,594.86) scale(1.0419,0.9852)" fill="#000" stroke="#000">分鐘</text>
</g>
</g>
<g id="frame" fill="#000" shape-rendering="crispEdges">
<rect x="0" y="0" width="800" height="1"/>
<rect x="0" y="0" width="1" height="600"/>
<rect x="798" y="0" width="2" height="600"/>
<rect x="0" y="598" width="800" height="2"/>
<rect x="699" y="0" width="1" height="600"/>
<rect x="0" y="573" width="800" height="1"/>
<rect x="700" y="55" width="4" height="1"/>
<rect x="700" y="150" width="4" height="1"/>
<rect x="700" y="245" width="4" height="1"/>
<rect x="700" y="304" width="4" height="1"/>
<rect x="700" y="362" width="4" height="1"/>
<rect x="700" y="457" width="4" height="1"/>
<rect x="700" y="552" width="4" height="1"/>
<rect x="355" y="573" width="1" height="8"/>
<rect x="618" y="573" width="1" height="8"/>
<rect x="133" y="599" width="7" height="1" fill="#008000"/>
<rect x="34" y="597" width="1" height="1"/>
<rect x="771" y="1" width="13" height="1"/>
<rect x="771" y="11" width="13" height="1"/>
<rect x="771" y="1" width="1" height="11"/>
<rect x="783" y="1" width="1" height="11"/>
<rect x="779" y="1" width="1" height="11"/>
<rect x="771" y="7" width="9" height="1"/>
</g>
</svg></body></html>
